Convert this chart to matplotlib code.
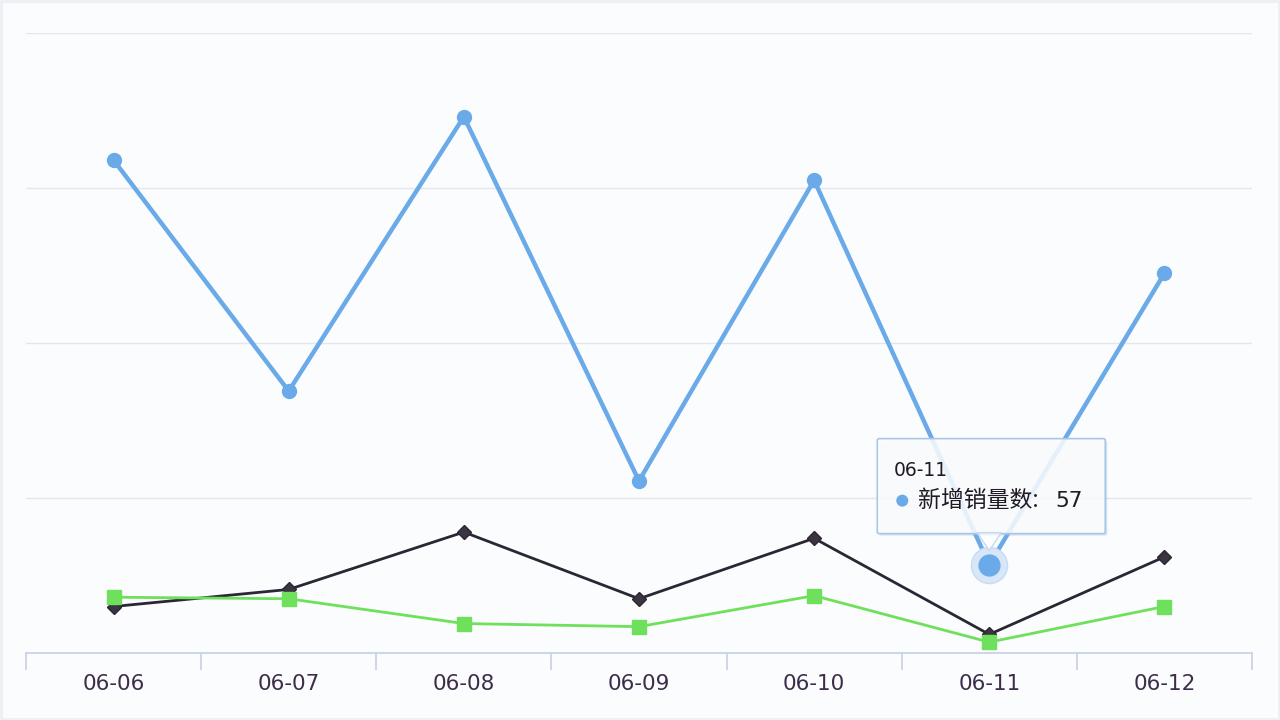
import matplotlib
matplotlib.use("Agg")
import matplotlib.pyplot as plt
import matplotlib.patches as mpatches
from matplotlib.patches import FancyBboxPatch, Polygon

plt.rcParams['font.family'] = ['Noto Sans CJK SC', 'DejaVu Sans']

categories = ["06-06", "06-07", "06-08", "06-09", "06-10", "06-11", "06-12"]
sales_new = [318, 169, 346, 111, 305, 57, 245]
series_black = [30, 41, 78, 35, 74, 12, 62]
series_green = [36, 35, 19, 17, 37, 7, 30]
tooltip_index = 5
tooltip_name = "新增销量数"

fig = plt.figure(figsize=(12.8, 7.2), dpi=100)
fig.patch.set_facecolor("#fbfcfe")
ax = fig.add_axes([26/1280, 67/720, 1226/1280, 620/720])
ax.set_facecolor("#fbfcfe")

x = list(range(len(categories)))
ax.set_xlim(-0.5, len(categories) - 0.5)
ax.set_ylim(0, 400)

for yv in [100, 200, 300, 400]:
    ax.axhline(yv, color="#e1e6ef", lw=1.0, zorder=0)

ax.plot(x, sales_new, color="#6aaae8", lw=3.2, marker="o", ms=10,
        markerfacecolor="#6aaae8", markeredgecolor="#6aaae8", zorder=3)
ax.plot(x, series_black, color="#2a2633", lw=2.0, marker="D", ms=7,
        markerfacecolor="#3a3540", markeredgecolor="#2a2633", zorder=4)
ax.plot(x, series_green, color="#6fe05c", lw=2.0, marker="s", ms=10,
        markerfacecolor="#6fe05c", markeredgecolor="#6fe05c", zorder=5)

# highlighted point
ti = tooltip_index
ax.plot([x[ti]], [sales_new[ti]], marker="o", ms=26, color="#d7e7f8",
        markeredgecolor="#c7dcf3", zorder=6)
ax.plot([x[ti]], [sales_new[ti]], marker="o", ms=15, color="#6aaae8",
        markeredgecolor="#6aaae8", zorder=7)

# axes styling
for s in ["top", "right", "left"]:
    ax.spines[s].set_visible(False)
ax.spines["bottom"].set_color("#c5d0e3")
ax.spines["bottom"].set_linewidth(1.2)
ax.set_yticks([])
ax.set_xticks([i - 0.5 for i in range(len(categories) + 1)], minor=False)
ax.set_xticklabels([])
ax.tick_params(axis="x", which="major", length=12, color="#c5d0e3", width=1.2)
ax.set_xticks(x, minor=True)
ax.set_xticklabels(categories, minor=True, family=["DejaVu Sans"])
ax.tick_params(axis="x", which="minor", length=0, pad=15, labelsize=15.5,
               labelcolor="#3d2d4a")

# tooltip (pixel offsets from the data point)
p0 = ax.transData.transform((x[ti], sales_new[ti]))
inv = fig.transFigure.inverted()
def fig_xy(dx, dy):
    return inv.transform((p0[0] + dx, p0[1] + dy))

bx0, by0, bw, bh = -112, 31, 228, 95
box_ll = fig_xy(bx0, by0)
box_ur = fig_xy(bx0 + bw, by0 + bh)
shadow = FancyBboxPatch(fig_xy(bx0 + 2, by0 - 2), box_ur[0] - box_ll[0], box_ur[1] - box_ll[1],
                        boxstyle="round,pad=0,rounding_size=0.002", transform=fig.transFigure,
                        facecolor="#9ab8dc", edgecolor="none", alpha=0.35, zorder=19)
fig.add_artist(shadow)
box = FancyBboxPatch(box_ll, box_ur[0] - box_ll[0], box_ur[1] - box_ll[1],
                     boxstyle="round,pad=0,rounding_size=0.002", transform=fig.transFigure,
                     facecolor=(1, 1, 1, 0.82), edgecolor="#a9c6ea", lw=1.2, zorder=20)
fig.add_artist(box)
tri = Polygon([fig_xy(-12, by0 + 1), fig_xy(12, by0 + 1), fig_xy(0, 14)], closed=True,
              transform=fig.transFigure, facecolor=(1, 1, 1, 0.7), edgecolor="#c5d9f1",
              lw=1.0, zorder=20)
fig.add_artist(tri)

t1 = fig_xy(bx0 + 16, by0 + 63)
fig.text(t1[0], t1[1], categories[ti], fontsize=13.5, color="#1f1a24", ha="left",
         va="center", zorder=21, family=["DejaVu Sans"])
fig.add_artist(mpatches.Circle((p0[0] + bx0 + 25, p0[1] + by0 + 33), 6,
               transform=None, facecolor="#6aaae8", edgecolor="none", zorder=21))
t2 = fig_xy(bx0 + 41, by0 + 33)
fig.text(t2[0], t2[1], f"{tooltip_name}: ", fontsize=16.5, color="#1f1a24",
         ha="left", va="center", zorder=21)
t3 = fig_xy(bx0 + 178, by0 + 33)
fig.text(t3[0], t3[1], str(sales_new[ti]), fontsize=15.5, color="#1f1a24",
         ha="left", va="center", zorder=21, family=["DejaVu Sans"], fontweight="medium")

# faint figure border
fig.add_artist(mpatches.Rectangle((0.001, 0.001), 0.998, 0.997, transform=fig.transFigure,
               facecolor="none", edgecolor="#eceff3", lw=2))

fig.savefig("out.png", dpi=100, facecolor=fig.get_facecolor())
